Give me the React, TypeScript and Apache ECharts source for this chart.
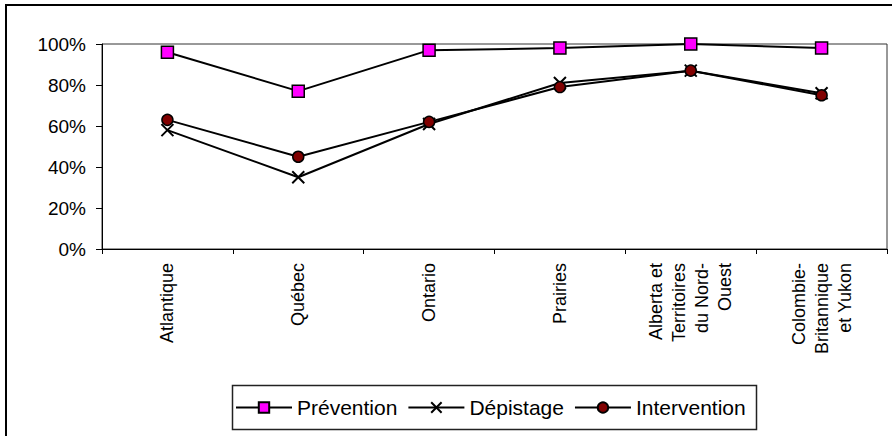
import React, { useEffect, useRef } from "react";
import * as echarts from "echarts";

const categories = [
  "Atlantique",
  "Québec",
  "Ontario",
  "Prairies",
  "Alberta et\nTerritoires\ndu Nord-\nOuest",
  "Colombie-\nBritannique\net Yukon",
];
const prevention = [96, 77, 97, 98, 100, 98];
const depistage = [58, 35, 61, 81, 87, 76];
const intervention = [63, 45, 62, 79, 87, 75];
const yTicks = [0, 20, 40, 60, 80, 100];

const FONT = 'Arial, "Liberation Sans", sans-serif';

export default function App() {
  const ref = useRef<HTMLDivElement>(null);
  useEffect(() => {
    if (!ref.current) return;
    const chart = echarts.init(ref.current, null, { renderer: "svg" });
    chart.setOption({
      animation: false,
      backgroundColor: "#fff",
      grid: {
        left: 102,
        top: 44,
        right: 5,
        bottom: 187,
        show: true,
        borderColor: "#333",
        borderWidth: 1,
      },
      xAxis: {
        type: "category",
        data: categories,
        boundaryGap: true,
        axisLine: { lineStyle: { color: "#000", width: 1 } },
        axisTick: { show: true, length: 5, lineStyle: { color: "#000" } },
        axisLabel: {
          rotate: 90,
          margin: 14,
          interval: 0,
          color: "#000",
          fontFamily: FONT,
          fontSize: 18,
          lineHeight: 23,
        },
      },
      yAxis: {
        type: "value",
        min: yTicks[0],
        max: yTicks[yTicks.length - 1],
        interval: 20,
        axisLine: { show: true, lineStyle: { color: "#000", width: 1 } },
        axisTick: { show: true, length: 6, lineStyle: { color: "#000" } },
        splitLine: { show: false },
        axisLabel: {
          formatter: "{value}%",
          margin: 16,
          color: "#000",
          fontFamily: FONT,
          fontSize: 19,
        },
      },
      legend: {
        left: 235,
        top: 397,
        itemWidth: 56,
        itemHeight: 13,
        itemGap: 10,
        padding: 0,
        textStyle: { color: "#000", fontFamily: FONT, fontSize: 21 },
        data: ["Prévention", "Dépistage", "Intervention"],
      },
      graphic: [
        {
          type: "rect",
          silent: true,
          shape: { x: 6, y: 5, width: 1000, height: 1000 },
          style: { fill: "none", stroke: "#000", lineWidth: 2 },
        },
        {
          type: "rect",
          silent: true,
          shape: { x: 232.5, y: 385.5, width: 524, height: 44 },
          style: { fill: "none", stroke: "#222", lineWidth: 1.5 },
        },
      ],
      series: [
        {
          name: "Prévention",
          type: "line",
          data: prevention,
          symbol: "rect",
          symbolSize: 12,
          lineStyle: { color: "#000", width: 2 },
          itemStyle: { color: "#FF00FF", borderColor: "#000", borderWidth: 1.5 },
          z: 3,
        },
        {
          name: "Dépistage",
          type: "line",
          data: depistage,
          symbol: "path://M0,0L10,10M10,0L0,10",
          symbolSize: 12,
          lineStyle: { color: "#000", width: 2 },
          itemStyle: { color: "#000", borderColor: "#000", borderWidth: 2 },
          z: 2,
        },
        {
          name: "Intervention",
          type: "line",
          data: intervention,
          symbol: "circle",
          symbolSize: 11,
          lineStyle: { color: "#000", width: 2 },
          itemStyle: { color: "#800000", borderColor: "#000", borderWidth: 1.5 },
          z: 2,
        },
      ],
    });
    return () => chart.dispose();
  }, []);
  return (
    <div
      ref={ref}
      style={{ position: "fixed", left: 0, top: 0, width: 892, height: 436 }}
    />
  );
}
